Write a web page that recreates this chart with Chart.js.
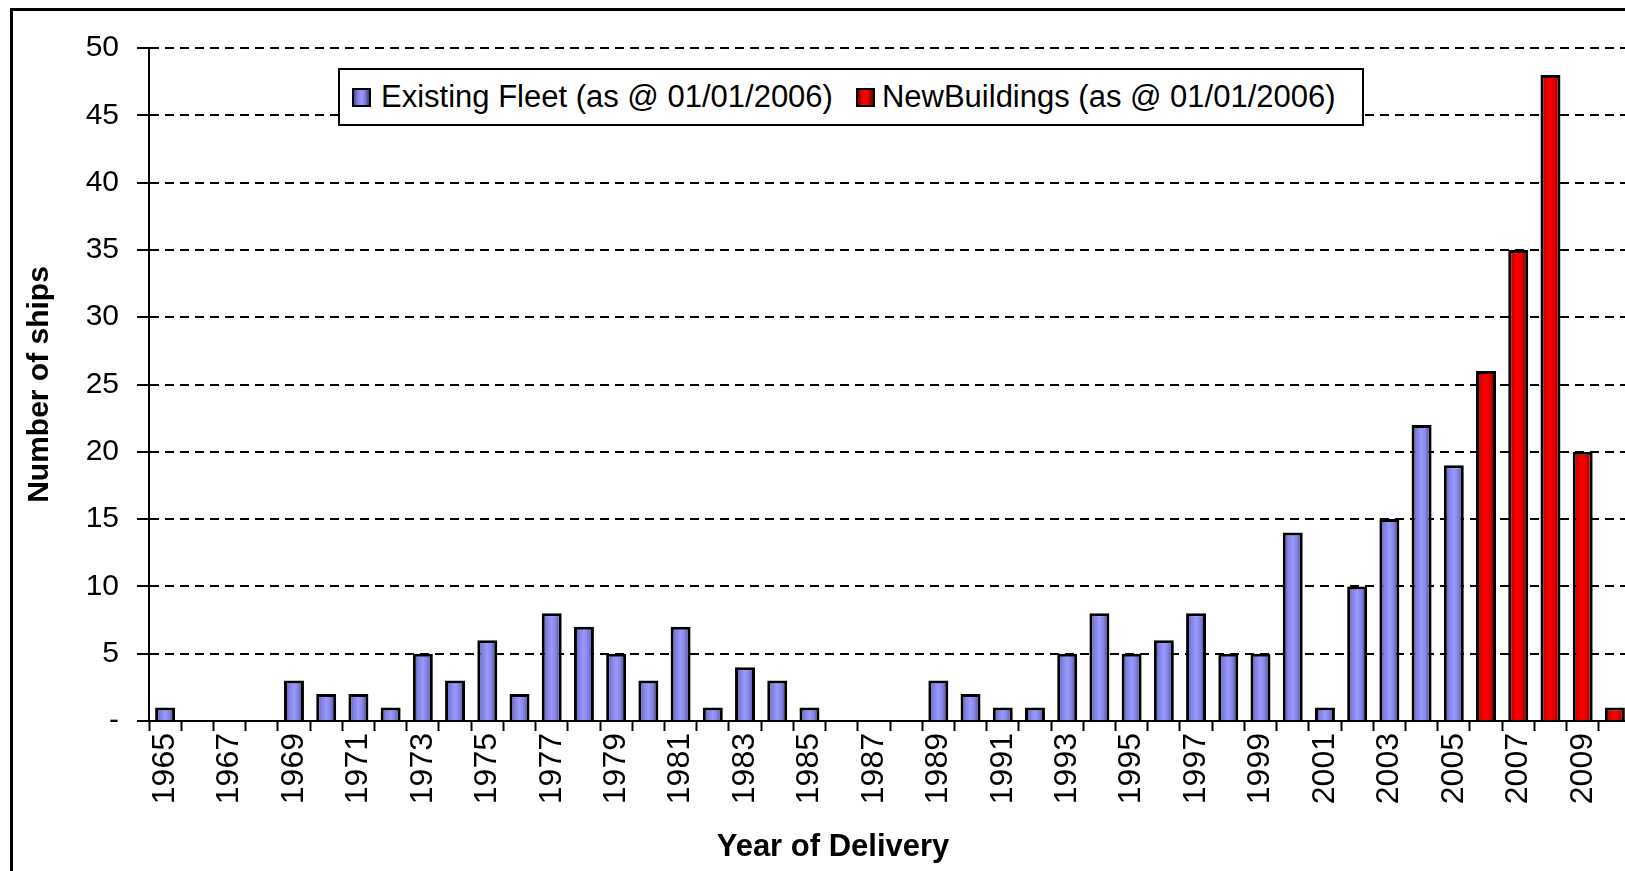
<!DOCTYPE html>
<html lang="en">
<head>
    <meta charset="UTF-8">
    <title>Ships by Year of Delivery</title>
    <script src="https://cdn.jsdelivr.net/npm/chart.js"></script>
    <style>
        html, body {
            margin: 0;
            padding: 0;
            width: 1625px;
            height: 871px;
            overflow: hidden;
            background: #fff;
        }
        body {
            position: relative;
            font-family: 'Liberation Sans', Arial, sans-serif;
            color: #000;
        }
        .frame {
            position: absolute;
            left: 10px;
            top: 8px;
            width: 1700px;
            height: 900px;
            border-left: 3px solid #000;
            border-top: 3px solid #000;
        }
        .chart-box {
            position: absolute;
            left: 0;
            top: 0;
            width: 1660px;
            height: 871px;
        }
        .legend {
            position: absolute;
            left: 338px;
            top: 68px;
            width: 1026px;
            height: 58px;
            box-sizing: border-box;
            border: 2px solid #000;
            background: #fff;
            display: flex;
            align-items: center;
            padding-left: 12px;
            font-size: 31px;
            white-space: nowrap;
        }
        .swatch {
            width: 15px;
            height: 15px;
            border: 2px solid #000;
            margin-right: 10px;
        }
        .swatch.blue {
            background: linear-gradient(to right, #4c4c99, #8080e0 25%, #9999ff 50%, #8585e6 70%, #3d3d80);
        }
        .swatch.red {
            background: linear-gradient(to right, #800000, #e00000 25%, #ff0000 50%, #dd0000 70%, #660000);
            margin-left: 23px;
            margin-right: 7px;
        }
        .x-title {
            position: absolute;
            left: 0;
            top: 830px;
            width: 1666px;
            text-align: center;
            font-size: 31px;
            line-height: 31px;
            font-weight: bold;
        }
    </style>
</head>
<body>
    <div class="frame"></div>
    <div class="chart-box"><canvas id="chart"></canvas></div>
    <div class="legend">
        <span class="swatch blue"></span><span>Existing Fleet (as @ 01/01/2006)</span>
        <span class="swatch red"></span><span>NewBuildings (as @ 01/01/2006)</span>
    </div>
    <div class="x-title">Year of Delivery</div>
    <script>
        const years = ['1965', '1966', '1967', '1968', '1969', '1970', '1971', '1972', '1973', '1974',
                       '1975', '1976', '1977', '1978', '1979', '1980', '1981', '1982', '1983', '1984',
                       '1985', '1986', '1987', '1988', '1989', '1990', '1991', '1992', '1993', '1994',
                       '1995', '1996', '1997', '1998', '1999', '2000', '2001', '2002', '2003', '2004',
                       '2005', '2006', '2007', '2008', '2009', '2010'];
        const existingFleet = [1, 0, 0, 0, 3, 2, 2, 1, 5, 3,
                               6, 2, 8, 7, 5, 3, 7, 1, 4, 3,
                               1, 0, 0, 0, 3, 2, 1, 1, 5, 8,
                               5, 6, 8, 5, 5, 14, 1, 10, 15, 22,
                               19, null, null, null, null, null];
        const newBuildings = [null, null, null, null, null, null, null, null, null, null,
                              null, null, null, null, null, null, null, null, null, null,
                              null, null, null, null, null, null, null, null, null, null,
                              null, null, null, null, null, null, null, null, null, null,
                              null, 26, 35, 48, 20, 1];
        const yTickLabels = ['-', '5', '10', '15', '20', '25', '30', '35', '40', '45', '50'];
        const seriesNames = ['Existing Fleet (as @ 01/01/2006)', 'NewBuildings (as @ 01/01/2006)'];
        const yTitle = 'Number of ships';

        const blueStops = [[0, '#4c4c99'], [0.25, '#8080e0'], [0.5, '#9999ff'], [0.7, '#8585e6'], [1, '#3d3d80']];
        const redStops = [[0, '#800000'], [0.25, '#e00000'], [0.5, '#ff0000'], [0.7, '#dd0000'], [1, '#660000']];

        // horizontal shading across each bar, like the old Excel fill
        function barFill(stops) {
            return function (context) {
                const chart = context.chart;
                const area = chart.chartArea;
                const xScale = chart.scales.x;
                if (!area || !xScale || context.type !== 'data') return stops[2][1];
                const center = xScale.getPixelForValue(context.dataIndex);
                const w = (area.right - area.left) / years.length * context.dataset.barPercentage;
                const g = chart.ctx.createLinearGradient(center - w / 2, 0, center + w / 2, 0);
                stops.forEach(s => g.addColorStop(s[0], s[1]));
                return g;
            };
        }

        Chart.defaults.font.family = "'Liberation Sans', Arial, sans-serif";
        Chart.defaults.color = '#000';

        new Chart(document.getElementById('chart'), {
            type: 'bar',
            data: {
                labels: years,
                datasets: [{
                    label: seriesNames[0],
                    data: existingFleet,
                    backgroundColor: barFill(blueStops),
                    borderColor: '#000',
                    borderWidth: 3,
                    barPercentage: 0.62,
                    categoryPercentage: 1,
                    grouped: false
                }, {
                    label: seriesNames[1],
                    data: newBuildings,
                    backgroundColor: barFill(redStops),
                    borderColor: '#000',
                    borderWidth: 3,
                    barPercentage: 0.62,
                    categoryPercentage: 1,
                    grouped: false
                }]
            },
            options: {
                responsive: true,
                maintainAspectRatio: false,
                animation: false,
                layout: { padding: { top: 48, right: 29, left: 0, bottom: 0 } },
                plugins: {
                    legend: { display: false },
                    tooltip: { enabled: false }
                },
                scales: {
                    x: {
                        offset: true,
                        grid: {
                            offset: true,
                            drawOnChartArea: false,
                            drawTicks: true,
                            tickLength: 10,
                            tickColor: '#000',
                            tickWidth: 2
                        },
                        border: { display: true, color: '#000', width: 2 },
                        ticks: {
                            autoSkip: false,
                            minRotation: 90,
                            maxRotation: 90,
                            padding: 2,
                            color: '#000',
                            font: { size: 32 },
                            callback: (v, i) => i % 2 === 0 ? years[i] : ''
                        },
                        afterFit: s => { s.height = 150; }
                    },
                    y: {
                        min: 0,
                        max: 50,
                        ticks: {
                            stepSize: 5,
                            padding: 18,
                            color: '#000',
                            font: { size: 30 },
                            callback: (v, i) => yTickLabels[i]
                        },
                        grid: {
                            color: '#000',
                            lineWidth: 2,
                            tickLength: 12,
                            tickColor: '#000',
                            tickWidth: 2,
                            tickBorderDash: []
                        },
                        border: { display: true, color: '#000', width: 2, dash: [9, 6] },
                        title: {
                            display: true,
                            text: yTitle,
                            color: '#000',
                            font: { size: 30, weight: 'bold' },
                            padding: { top: 22, bottom: 0 }
                        },
                        afterFit: s => { s.width = 149; }
                    }
                }
            }
        });
    </script>
</body>
</html>
